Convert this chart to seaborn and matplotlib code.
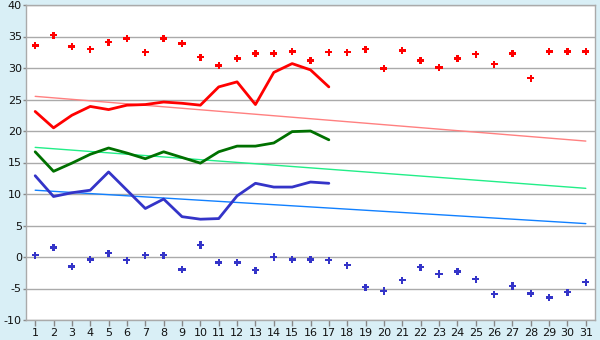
import numpy as np
import pandas as pd
import matplotlib
matplotlib.use("Agg")
import matplotlib.pyplot as plt
import seaborn as sns

days = list(range(1, 32))
max_record = [33.6, 35.2, 33.4, 33.0, 34.1, 34.7, 32.5, 34.7, 33.9, 31.7,
              30.4, 31.5, 32.3, 32.3, 32.6, 31.2, 32.5, 32.5, 33.0, 29.9,
              32.8, 31.2, 30.1, 31.5, 32.2, 30.6, 32.3, 28.4, 32.6, 32.6, 32.6]
min_record = [0.3, 1.5, -1.5, -0.4, 0.6, -0.5, 0.3, 0.3, -2.0, 1.9,
              -0.9, -0.9, -2.1, 0.0, -0.4, -0.4, -0.5, -1.3, -4.8, -5.4,
              -3.7, -1.6, -2.7, -2.3, -3.5, -5.9, -4.6, -5.8, -6.4, -5.6, -4.0]
obs_days = list(range(1, 18))
tmax = [23.1, 20.5, 22.5, 23.9, 23.4, 24.1, 24.2, 24.6, 24.4, 24.1,
        27.0, 27.8, 24.2, 29.3, 30.7, 29.7, 27.0]
tmean = [16.7, 13.6, 14.9, 16.3, 17.3, 16.5, 15.6, 16.7, 15.8, 14.9,
         16.7, 17.6, 17.6, 18.1, 19.9, 20.0, 18.6]
tmin = [12.9, 9.6, 10.2, 10.6, 13.5, 10.6, 7.7, 9.2, 6.4, 6.0,
        6.1, 9.7, 11.7, 11.1, 11.1, 11.9, 11.7]
norm_max_ends = [25.5, 18.4]
norm_mean_ends = [17.4, 10.9]
norm_min_ends = [10.6, 5.3]
trend_days = [1, 31]

sns.set_theme(style="white")
plt.rcParams['font.family'] = ['DejaVu Sans']
plt.rcParams['axes.unicode_minus'] = False

bg = "#d9eff6"
fig = plt.figure(figsize=(6, 3.4), dpi=100, facecolor=bg)
ax = fig.add_axes([26/600, 1-320/340, 569/600, 315/340])
ax.set_facecolor("white")

for ends, col in [(norm_max_ends, "#ff8080"), (norm_mean_ends, "#22ee88"), (norm_min_ends, "#1180ff")]:
    sns.lineplot(x=trend_days, y=ends, color=col, lw=1.0, ax=ax)

sns.lineplot(x=obs_days, y=tmax, color="#ff0000", lw=2.0, ax=ax)
sns.lineplot(x=obs_days, y=tmean, color="#007000", lw=2.0, ax=ax)
sns.lineplot(x=obs_days, y=tmin, color="#3434c8", lw=2.0, ax=ax)

sns.scatterplot(x=days, y=max_record, marker="P", s=26, color="#ff0000", edgecolor="none", ax=ax)
sns.scatterplot(x=days, y=min_record, marker="P", s=26, color="#3434c8", edgecolor="none", ax=ax)

ax.set_xlim(0.5, 31.5)
ax.set_ylim(-10, 40)
ax.set_xticks(days)
ax.set_xticklabels([str(d) for d in days])
ax.set_yticks(range(-10, 41, 5))
ax.grid(axis="y", color="#aaaaaa", lw=1.0)
ax.set_axisbelow(True)
for s in ax.spines.values():
    s.set_color("#aaaaaa")
    s.set_linewidth(1.0)
ax.tick_params(axis="x", which="both", length=4, color="#888888", width=1,
               labelsize=8, labelcolor="#111111", pad=2, bottom=True)
ax.tick_params(axis="y", which="both", length=2, color="#888888", width=1,
               labelsize=8, labelcolor="#111111", pad=1, left=True)
ax.set_xlabel("")
ax.set_ylabel("")

fig.savefig("out.png", dpi=100, facecolor=bg)
